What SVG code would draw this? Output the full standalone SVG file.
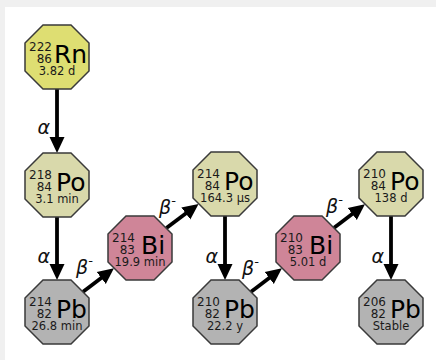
<svg xmlns="http://www.w3.org/2000/svg" width="436" height="360" viewBox="0 0 436 360">
  <style>
    .node { stroke: #3a3a3a; stroke-width: 1.5; }
    .rn { fill: #dede72; }
    .po { fill: #d9d9ab; }
    .bi { fill: #cf8598; }
    .pb { fill: #b3b3b3; }
    text { font-family: "DejaVu Sans", "Liberation Sans", sans-serif; fill: #1a1a1a; }
    .num { font-size: 12px; text-anchor: end; }
    .sym { font-size: 25px; fill: #000; }
    .hl { font-size: 11.5px; text-anchor: middle; }
    .lbl { font-size: 19px; font-style: italic; fill: #111; }
    .edge { stroke: #000; stroke-width: 3.8; fill: none; marker-end: url(#head); }
  </style>
  <defs>
    <polygon id="oct" points="-14,-32 14,-32 32,-14 32,14 14,32 -14,32 -32,14 -32,-14"/>
    <marker id="head" viewBox="0 0 16 16" refX="7" refY="8" markerWidth="16" markerHeight="16" markerUnits="userSpaceOnUse" orient="auto">
      <path d="M0,0.5 L16,8 L0,15.5 Z" fill="#000"/>
    </marker>
  </defs>

  <!-- page -->
  <rect x="0" y="0" width="436" height="360" fill="#f0f0f0"/>
  <rect x="5" y="7" width="431" height="353" fill="#ffffff"/>

  <!-- decay arrows: line ends 9px short of the tip, the head covers the rest -->
  <g id="connectors">
    <line class="edge" x1="57" y1="89" x2="57" y2="144"/>
    <line class="edge" x1="57" y1="217" x2="57" y2="271"/>
    <line class="edge" x1="225" y1="216" x2="225" y2="271"/>
    <line class="edge" x1="391" y1="216" x2="391" y2="271"/>
    <line class="edge" x1="83.1" y1="291.8" x2="106.8" y2="273.7"/>
    <line class="edge" x1="166.4" y1="228.1" x2="191.4" y2="209.3"/>
    <line class="edge" x1="251.1" y1="291.8" x2="274.8" y2="273.7"/>
    <line class="edge" x1="334.1" y1="227.8" x2="357.8" y2="209.7"/>
    <text class="lbl" x="50" y="134" text-anchor="end">α</text>
    <text class="lbl" x="50" y="263" text-anchor="end">α</text>
    <text class="lbl" x="218" y="263" text-anchor="end">α</text>
    <text class="lbl" x="384" y="263" text-anchor="end">α</text>
    <text class="lbl" x="76" y="274">β<tspan font-size="13" dy="-9">-</tspan></text>
    <text class="lbl" x="159" y="214">β<tspan font-size="13" dy="-9">-</tspan></text>
    <text class="lbl" x="242" y="275">β<tspan font-size="13" dy="-9">-</tspan></text>
    <text class="lbl" x="326" y="213">β<tspan font-size="13" dy="-9">-</tspan></text>
  </g>

  <g id="rn222" transform="translate(57,57)">
    <use href="#oct" class="node rn"/>
    <text class="num" x="-5" y="-6">222</text>
    <text class="num" x="-5" y="6">86</text>
    <text class="sym" x="-3" y="6">Rn</text>
    <text class="hl" x="0" y="18">3.82 d</text>
  </g>

  <g id="po218" transform="translate(57,185)">
    <use href="#oct" class="node po"/>
    <text class="num" x="-5" y="-6">218</text>
    <text class="num" x="-5" y="6">84</text>
    <text class="sym" x="-1" y="6">Po</text>
    <text class="hl" x="0" y="18">3.1 min</text>
  </g>

  <g id="pb214" transform="translate(57,312)">
    <use href="#oct" class="node pb"/>
    <text class="num" x="-5" y="-6">214</text>
    <text class="num" x="-5" y="6">82</text>
    <text class="sym" x="-1" y="6">Pb</text>
    <text class="hl" x="0" y="18">26.8 min</text>
  </g>

  <g id="bi214" transform="translate(140,248)">
    <use href="#oct" class="node bi"/>
    <text class="num" x="-5" y="-6">214</text>
    <text class="num" x="-5" y="6">83</text>
    <text class="sym" x="1" y="6">Bi</text>
    <text class="hl" x="0" y="18">19.9 min</text>
  </g>

  <g id="po214" transform="translate(225,184)">
    <use href="#oct" class="node po"/>
    <text class="num" x="-5" y="-6">214</text>
    <text class="num" x="-5" y="6">84</text>
    <text class="sym" x="-1" y="6">Po</text>
    <text class="hl" x="0" y="18">164.3 µs</text>
  </g>

  <g id="pb210" transform="translate(225,312)">
    <use href="#oct" class="node pb"/>
    <text class="num" x="-5" y="-6">210</text>
    <text class="num" x="-5" y="6">82</text>
    <text class="sym" x="-1" y="6">Pb</text>
    <text class="hl" x="0" y="18">22.2 y</text>
  </g>

  <g id="bi210" transform="translate(308,248)">
    <use href="#oct" class="node bi"/>
    <text class="num" x="-5" y="-6">210</text>
    <text class="num" x="-5" y="6">83</text>
    <text class="sym" x="1" y="6">Bi</text>
    <text class="hl" x="0" y="18">5.01 d</text>
  </g>

  <g id="po210" transform="translate(391,184)">
    <use href="#oct" class="node po"/>
    <text class="num" x="-5" y="-6">210</text>
    <text class="num" x="-5" y="6">84</text>
    <text class="sym" x="-1" y="6">Po</text>
    <text class="hl" x="0" y="18">138 d</text>
  </g>

  <g id="pb206" transform="translate(391,312)">
    <use href="#oct" class="node pb"/>
    <text class="num" x="-5" y="-6">206</text>
    <text class="num" x="-5" y="6">82</text>
    <text class="sym" x="-1" y="6">Pb</text>
    <text class="hl" x="0" y="18">Stable</text>
  </g>
</svg>
